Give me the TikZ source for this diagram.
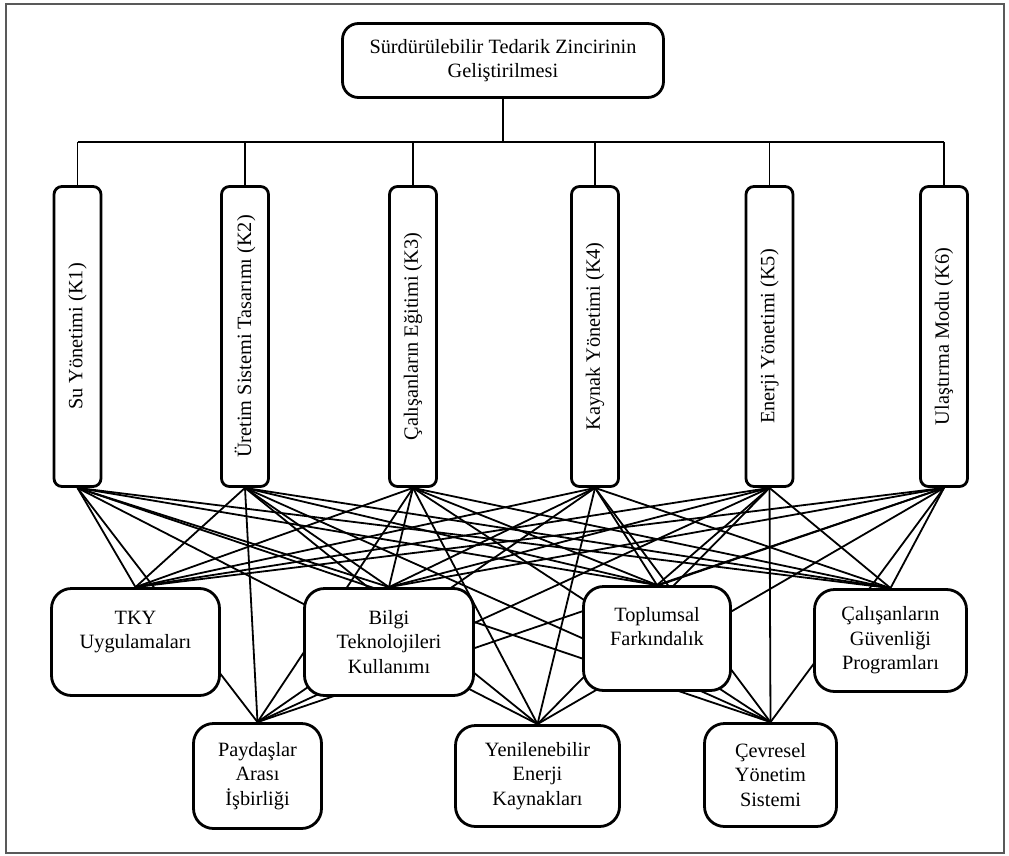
\documentclass[tikz,border=0pt]{standalone}
\usepackage{fontspec}
\setmainfont{Liberation Serif}
\newcommand\figfont{\fontsize{20.3}{24.5}\selectfont}
\pgfdeclarelayer{bg}
\pgfsetlayers{bg,main}
\tikzset{
  frame/.style={draw=black!65, line width=1.4pt},
  box/.style={draw=black, line width=2.8pt, fill=white, inner sep=0pt, align=center, font=\figfont},
  kbox/.style={box, rounded corners=8pt, minimum width=47pt, minimum height=300pt},
  cbox/.style={box, rounded corners=20pt},
  topbox/.style={box, rounded corners=16pt, minimum width=321pt, minimum height=74pt},
  ktext/.style={rotate=90, font=\figfont, inner sep=0pt},
  bus/.style={draw=black, line width=1.4pt},
  conn/.style={draw=black, line width=1.8pt}
}
\begin{document}
\begin{tikzpicture}[x=1pt,y=-1pt]
\useasboundingbox (0,0) rectangle (1009,856);
\draw[frame] (6,4) rectangle (1004,853);

% top node
\node[topbox] (top) at (503,60.5) {Sürdürülebilir Tedarik Zincirinin\\Geliştirilmesi};

% K boxes
\node[kbox] (k1) at (77.5,336.5) {};
\node[kbox] (k2) at (245,336.5) {};
\node[kbox] (k3) at (413,336.5) {};
\node[kbox] (k4) at (595,336.5) {};
\node[kbox] (k5) at (769.5,336.5) {};
\node[kbox] (k6) at (944,336.5) {};
\node[ktext] (t1) at (k1) {Su Yönetimi (K1)};
\node[ktext] (t2) at (k2) {Üretim Sistemi Tasarımı (K2)};
\node[ktext] (t3) at (k3) {Çalışanların Eğitimi (K3)};
\node[ktext] (t4) at (k4) {Kaynak Yönetimi (K4)};
\node[ktext] (t5) at (k5) {Enerji Yönetimi (K5)};
\node[ktext] (t6) at (k6) {Ulaştırma Modu (K6)};

% second level
\node[cbox, minimum width=168pt, minimum height=107pt] (tky) at (135.5,642) {TKY\\Uygulamaları\\\mbox{}};
\node[cbox, minimum width=169pt, minimum height=107pt] (bilgi) at (389,642) {Bilgi\\Teknolojileri\\Kullanımı};
\node[cbox, minimum width=147pt, minimum height=104pt] (topl) at (657,638.5) {Toplumsal\\Farkındalık\\\mbox{}};
\node[cbox, minimum width=152pt, minimum height=102pt] (cal) at (890.5,640.5) {Çalışanların\\Güvenliği\\Programları};

% third level
\node[cbox, minimum width=128pt, minimum height=105pt] (pay) at (257.5,776) {Paydaşlar\\Arası\\İşbirliği};
\node[cbox, minimum width=164pt, minimum height=101pt] (yen) at (537.5,776) {Yenilenebilir\\Enerji\\Kaynakları};
\node[cbox, minimum width=132pt, minimum height=103pt] (cev) at (770.5,775) {Çevresel\\Yönetim\\Sistemi};

% hierarchy bus
\coordinate (bus) at (503,142);
\coordinate (busL) at (k1.north |- bus);
\coordinate (busR) at (k6.north |- bus);
\draw[bus] (top.south) -- (bus);
\draw[bus] (busL) -- (busR);
\foreach \k in {k1,k2,k3,k4,k5,k6}
  \draw[bus] (\k.north |- bus) -- (\k.north);

% full web of connectors, beneath the boxes
\begin{pgfonlayer}{bg}
\foreach \k in {k1,k2,k3,k4,k5,k6}
  \foreach \t in {tky,bilgi,topl,cal,pay,yen,cev}
    \draw[conn] (\k.south) -- (\t.north);
\end{pgfonlayer}
\end{tikzpicture}
\end{document}
